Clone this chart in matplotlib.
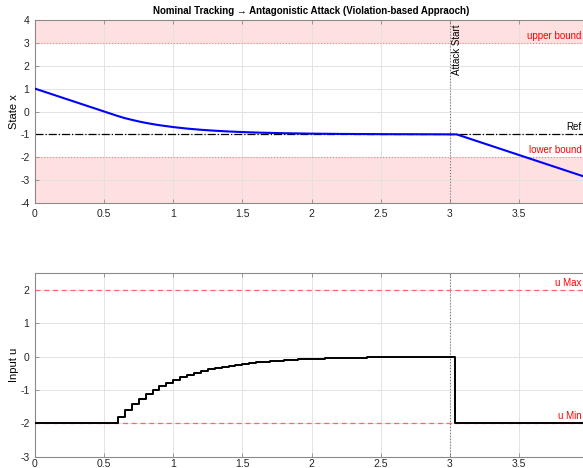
import matplotlib.pyplot as plt

plt.rcParams['font.family'] = ['Liberation Sans', 'DejaVu Sans']
plt.rcParams['axes.unicode_minus'] = False

# state trajectory samples (time, x)
t_state = [0, 0.6, 0.65, 0.7, 0.75, 0.8, 0.85, 0.9, 1.0, 1.1, 1.2, 1.3, 1.4, 1.5,
           1.6, 1.8, 2.0, 2.2, 2.4, 2.6, 2.8, 3.05, 4.0]
x_state = [1.0, -0.2, -0.29, -0.364, -0.434, -0.495, -0.55, -0.599, -0.681, -0.747,
           -0.799, -0.84, -0.873, -0.899, -0.92, -0.949, -0.968, -0.98, -0.987,
           -0.992, -0.995, -1.0, -2.9]

# control input, held between samples
t_input = [0, 0.6, 0.65, 0.7, 0.75, 0.8, 0.85, 0.9, 0.95, 1.0, 1.05, 1.1, 1.15, 1.2,
           1.25, 1.3, 1.35, 1.4, 1.45, 1.5, 1.55, 1.6, 1.65, 1.7, 1.75, 1.8, 1.85,
           1.9, 1.95, 2.0, 2.05, 2.1, 2.15, 2.2, 2.25, 2.3, 2.35, 2.4, 2.45, 2.5,
           2.55, 2.6, 2.65, 2.7, 2.75, 2.8, 2.85, 2.9, 2.95, 3.0, 3.04, 4.0]
u_input = [-2.0, -1.8, -1.598, -1.418, -1.258, -1.117, -0.991, -0.88, -0.781, -0.693,
           -0.615, -0.546, -0.484, -0.43, -0.381, -0.339, -0.3, -0.267, -0.237,
           -0.21, -0.186, -0.165, -0.147, -0.13, -0.116, -0.103, -0.091, -0.081,
           -0.072, -0.064, -0.056, -0.05, -0.044, -0.039, -0.035, -0.031, -0.028,
           -0.024, -0.022, -0.019, -0.017, -0.015, -0.013, -0.012, -0.011, -0.009,
           -0.008, -0.007, -0.007, -0.006, -2.0, -2.0]

x_upper = 3
x_lower = -2
x_ref = -1
u_max = 2
u_min = -2
t_attack = 3.0
t_end = 4
t_label = 3.955  # right end of the line labels
t_ticks = [0, 0.5, 1, 1.5, 2, 2.5, 3, 3.5, 4]
t_ticklabels = ['0', '0.5', '1', '1.5', '2', '2.5', '3', '3.5', '']

W, H = 583, 468
fig = plt.figure(figsize=(W / 100, H / 100), dpi=100)
# axes run slightly past the right edge of the figure
ax1 = fig.add_axes([35 / W, (H - 203) / H, 553 / W, 183 / H])
ax2 = fig.add_axes([35 / W, (H - 456.7) / H, 553 / W, 183.4 / H])

edge = '#8a8a8a'
for ax in (ax1, ax2):
    ax.grid(True, color='#e3e3e3', linewidth=0.7)
    ax.set_axisbelow(True)
    ax.tick_params(direction='in', length=3, width=0.6, color=edge,
                   labelsize=7.5, labelcolor='#262626', top=True, right=True, pad=4)
    for s in ax.spines.values():
        s.set_color(edge)
        s.set_linewidth(0.8)
    ax.set_xlim(0, t_end)
    ax.set_xticks(t_ticks)
    ax.set_xticklabels(t_ticklabels)
    ax.axvline(t_attack, color='#777777', linestyle=':', linewidth=0.8)

# bottom labels sit close to the axis so they stay on the canvas
ax2.tick_params(axis='x', pad=1.5)

# --- state plot
ax1.set_ylim(-4, 4)
ax1.set_yticks(range(-4, 5))
ax1.axhspan(x_upper, 4, color='#ffe0e0', zorder=0, linewidth=0)
ax1.axhspan(-4, x_lower, color='#ffe0e0', zorder=0, linewidth=0)
ax1.axhline(x_upper, color='#ff8080', linestyle=':', linewidth=0.8)
ax1.axhline(x_lower, color='#ff8080', linestyle=':', linewidth=0.8)
ax1.axhline(x_ref, color='black', linestyle='-.', linewidth=0.9)
ax1.plot(t_state, x_state, color='blue', linewidth=1.5, zorder=3)
ax1.text(t_label, x_upper + 0.1, 'upper bound', color='red', fontsize=7,
         ha='right', va='bottom')
ax1.text(t_label, x_ref + 0.1, 'Ref', color='black', fontsize=7,
         ha='right', va='bottom')
ax1.text(t_label, x_lower + 0.1, 'lower bound', color='red', fontsize=7,
         ha='right', va='bottom')
ax1.text(t_attack + 0.015, 3.8, 'Attack Start', rotation=90, fontsize=7,
         ha='left', va='top')
ax1.set_ylabel('State x', fontsize=8, labelpad=1)
ax1.set_title('Nominal Tracking \u2192 Antagonistic Attack (Violation-based Appraoch)',
              fontsize=7, fontweight='bold', pad=4)

# --- input plot
ax2.set_ylim(-3, 2.5)
ax2.set_yticks([-3, -2, -1, 0, 1, 2])
ax2.axhline(u_max, color='#ff6666', linestyle='--', linewidth=0.9, dashes=(4, 3))
ax2.axhline(u_min, color='#ff6666', linestyle='--', linewidth=0.9, dashes=(4, 3))
ax2.step(t_input, u_input, where='post', color='black', linewidth=1.4, zorder=3)
ax2.text(t_label, u_max + 0.06, 'u Max', color='red', fontsize=7,
         ha='right', va='bottom')
ax2.text(t_label, u_min + 0.06, 'u Min', color='red', fontsize=7,
         ha='right', va='bottom')
ax2.set_ylabel('Input u', fontsize=8, labelpad=1)

fig.savefig('out.png', dpi=100)
